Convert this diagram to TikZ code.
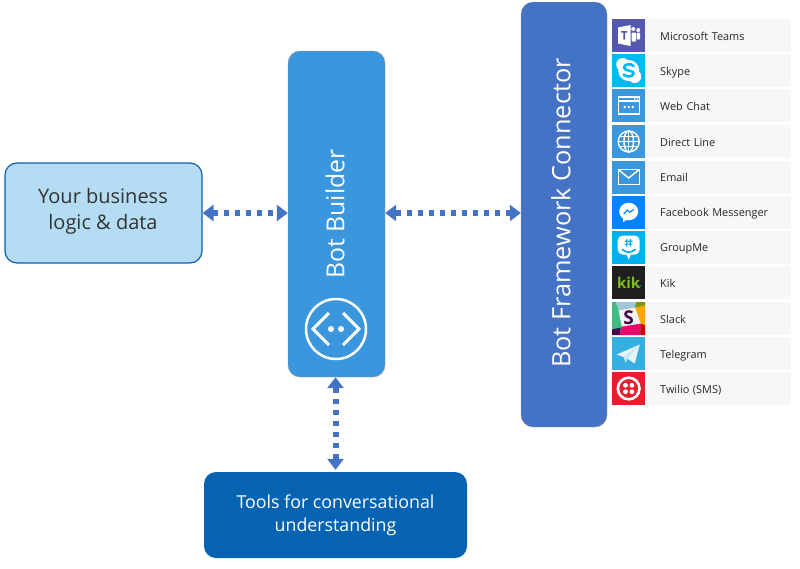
\documentclass[tikz,border=0pt]{standalone}
\usepackage{fontspec}
\setmainfont{Open Sans}
\usetikzlibrary{arrows.meta}
\definecolor{builderblue}{HTML}{3A96DD}
\definecolor{connectorblue}{HTML}{4472C4}
\definecolor{toolsblue}{HTML}{0563B1}
\definecolor{logicblue}{HTML}{B4DCF3}
\definecolor{logicedge}{HTML}{0F5FAF}
\definecolor{rowgray}{HTML}{F7F7F7}
\definecolor{msgblue}{HTML}{0084FF}
\definecolor{teamspurple}{HTML}{5558AF}
\definecolor{skypeblue}{HTML}{00B9F2}
\definecolor{groupblue}{HTML}{00AFF0}
\definecolor{kikgreen}{HTML}{82BC23}
\definecolor{telegramblue}{HTML}{37AEE2}
\definecolor{twiliored}{HTML}{E31E2E}
\tikzset{
  bigbox/.style={draw, rounded corners=#1, inner sep=0pt},
  bigbox/.default=12pt,
  channel/.style={fill=rowgray, minimum width=146pt, minimum height=33pt, inner sep=0pt,
                  anchor=west, align=left, text width=131pt, text depth=0pt,
                  font=\fontsize{10.9}{12}\selectfont, text=black!85},
  tile/.style={minimum size=33pt, inner sep=0pt, anchor=west, fill=#1},
  link/.style={connectorblue, line width=6pt, dash pattern=on 5.5pt off 5.5pt,
               {Triangle[width=16pt,length=11pt]}-{Triangle[width=16pt,length=11pt]}},
  glyph/.style={white, line width=1.4pt},
  teamsicon/.pic={
    \fill[white] (-10.5,-8) -- (2,-10.5) -- (2,10.5) -- (-10.5,8) -- cycle;
    \fill[teamspurple] (-7.5,-4.5) -- (-1.5,-4.5) -- (-1.5,-2.8) -- (-3.6,-2.8) -- (-3.6,4) -- (-5.4,4) -- (-5.4,-2.8) -- (-7.5,-2.8) -- cycle;
    \fill[white] (4.5,-6.5) circle (2pt) (9.5,-5.5) circle (2pt);
    \fill[white, rounded corners=1pt] (3,-3) rectangle (7.5,6);
    \fill[white, rounded corners=1pt] (8,-3) rectangle (11.5,4);
  },
  skypeicon/.pic={
    \fill[white] (-6,-6) circle (6.5pt) (6,6) circle (6.5pt) (0,0) circle (10.5pt);
    \draw[skypeblue, line width=2.6pt, line cap=round]
      (5,-4.5) .. controls (2,-7.5) and (-5.5,-6.5) .. (-4.5,-2.5)
      .. controls (-3.5,1) and (5.5,-0.5) .. (4.8,3)
      .. controls (4,7) and (-3,6.5) .. (-5,4);
  },
  webicon/.pic={
    \draw[glyph] (-10.5,-8.5) rectangle (10.5,8.5);
    \draw[glyph] (-10.5,-4.5) -- (10.5,-4.5);
    \fill[white] (6,-6.5) circle (.8pt) (8.5,-6.5) circle (.8pt);
    \fill[white] (-4,1.5) circle (1.3pt) (0,1.5) circle (1.3pt) (4,1.5) circle (1.3pt);
  },
  globeicon/.pic={
    \draw[glyph] (0,0) circle (10.5pt);
    \draw[glyph] (0,0) ellipse (4.8pt and 10.5pt);
    \draw[glyph] (-10.5,0) -- (10.5,0) (0,-10.5) -- (0,10.5);
    \draw[glyph] (-9,-5) -- (9,-5) (-9,5) -- (9,5);
  },
  mailicon/.pic={
    \draw[glyph] (-10.5,-7.5) rectangle (10.5,7.5);
    \draw[glyph] (-10.5,-7.5) -- (0,1) -- (10.5,-7.5);
  },
  fbicon/.pic={
    \fill[white] (0,-.5) ellipse (9.5pt and 8.8pt);
    \fill[white] (-5.5,4) -- (-5.5,10) -- (-.5,7) -- cycle;
    \draw[msgblue, line width=1.2pt] (-5,2) -- (-1.5,-2) -- (1,0.3) -- (5,-2.5);
  },
  groupicon/.pic={
    \fill[white, rounded corners=5pt] (-11,-12) rectangle (11,7);
    \fill[white] (-3,5) -- (0,12) -- (3,5) -- cycle;
    \draw[groupblue, line width=1.2pt] (-1.8,-8.5) -- (-2.2,-1) (1.8,-8.5) -- (1.4,-1)
      (-4,-6.2) -- (3.8,-6.2) (-4.2,-3.4) -- (3.6,-3.4);
    \draw[groupblue, line width=1.6pt, line cap=round] (-6.5,2) .. controls (-3,5.5) and (3,5.5) .. (6.5,2);
  },
  slackicon/.pic={
    \fill[teal!70!green!75!white] (-16.5,-16.5) rectangle (16.5,16.5);
    \fill[cyan!45!gray!60!white] (-13,-16.5) -- (8,-16.5) -- (5,-8) -- (-10,-8) -- cycle;
    \fill[olive!75!green] (8,-16.5) -- (16.5,-16.5) -- (16.5,-12) -- (6.5,-12) -- cycle;
    \fill[orange!70!yellow] (6.5,-11) -- (16.5,-13) -- (16.5,7) -- (12,5) -- cycle;
    \fill[magenta!70!red] (-9,16.5) -- (-7,8) -- (12,5) -- (12,16.5) -- cycle;
    \fill[red!85!black] (12,5) -- (16.5,7) -- (16.5,16.5) -- (12,16.5) -- cycle;
    \fill[violet!60!black] (-16.5,11) -- (-8,9) -- (-9,16.5) -- (-16.5,16.5) -- cycle;
    \fill[white!95!black] (-10,-8) -- (6.5,-11) -- (12,5) -- (-7,8) -- cycle;
    \node[text=violet!55!black, inner sep=0pt, font=\bfseries\fontsize{19}{19}\selectfont] (slackS) at (0,-.5) {S};
  },
  telegramicon/.pic={
    \fill[white!88!telegramblue] (-12,1) -- (11,-9) -- (6,10) -- (-1.5,5) -- (-3,9) -- (-5,3.5) -- cycle;
    \fill[white!70!telegramblue] (-5,3.5) -- (11,-9) -- (-1.5,5) -- (-3,9) -- cycle;
  },
  twilioicon/.pic={
    \draw[white, line width=2.6pt] (0,0) circle (10.8pt);
    \fill[white] (-3.2,-3.2) circle (2.4pt) (3.2,-3.2) circle (2.4pt)
                 (-3.2,3.2) circle (2.4pt) (3.2,3.2) circle (2.4pt);
  }
}

\begin{document}
\begin{tikzpicture}[x=1pt, y=-1pt]
\useasboundingbox (0,0) rectangle (800,568);

% the three main boxes and the tools box
\node (logic) [bigbox, draw=logicedge, line width=1.2pt, fill=logicblue, minimum width=197pt, minimum height=100pt] at (103.5,213) {};
\node (logictext) [align=center, text=black!80, font=\fontsize{20}{26}\selectfont] at (103,211) {Your business\\logic \& data};
\node (builder) [bigbox, draw=gray!80, fill=builderblue, minimum width=97pt, minimum height=326pt] at (336.5,214) {};
\node (buildertext) [rotate=90, text=white, font=\fontsize{24.8}{26}\selectfont] at (335,214) {Bot Builder};
\node (connector) [bigbox, draw=gray!70, fill=connectorblue, minimum width=86pt, minimum height=425pt] at (564,214.5) {};
\node (connectortext) [rotate=90, text=white, font=\fontsize{25.3}{26}\selectfont] at (561,213) {Bot Framework Connector};
\node (tools) [bigbox, draw=none, fill=toolsblue, minimum width=263pt, minimum height=86pt] at (335.5,515) {};
\node (toolstext) [align=center, text=white, font=\fontsize{17.8}{23}\selectfont] at (335.5,515) {Tools for conversational\\understanding};

% bot icon
\draw [white, line width=2.5pt] (336,329) circle (30pt);
\draw [white, line width=3pt] (329,313) -- (313,329) -- (329,345);
\draw [white, line width=3pt] (343,313) -- (359,329) -- (343,345);
\fill [white] (331,329) circle (3pt) (341,329) circle (3pt);

% connections
\draw [link] (logic.east) -- (builder.west |- logic.east);
\draw [link] (builder.east |- logic.east) -- (connector.west |- logic.east);
\draw [link, shorten >=2pt] (tools.north |- builder.south) -- (tools.north);

% channel rows
\foreach \idx/\ypos/\tilecol/\label in {
    a/35.5/teamspurple/Microsoft Teams,
    b/70.5/skypeblue/Skype,
    c/105.5/builderblue/Web Chat,
    d/141.5/builderblue/Direct Line,
    e/177/builderblue/Email,
    f/212/msgblue/Facebook Messenger,
    g/247.5/groupblue/GroupMe,
    h/282.5/black!88/Kik,
    i/318.5/white/Slack,
    j/353.5/telegramblue/Telegram,
    k/388.5/twiliored/Twilio (SMS)} {
  \node (tile\idx) [tile=\tilecol] at (612,\ypos) {};
  \node (row\idx) [channel] at (645,\ypos) {\hspace*{7.5pt}\raisebox{-1pt}{\label}\rule[-4pt]{0pt}{9pt}};
}

% channel logos
\pic at (tilea) {teamsicon};
\pic at (tileb) {skypeicon};
\pic at (tilec) {webicon};
\pic at (tiled) {globeicon};
\pic at (tilee) {mailicon};
\pic at (tilef) {fbicon};
\pic at (tileg) {groupicon};
\node (kiklogo) [text=kikgreen, inner sep=0pt, font=\bfseries\fontsize{15}{15}\selectfont] at (tileh) {kik};
\fill [skypeblue] (640,286) circle (.8pt);
\pic at (tilei) {slackicon};
\pic at (tilej) {telegramicon};
\pic at (tilek) {twilioicon};
\end{tikzpicture}
\end{document}
